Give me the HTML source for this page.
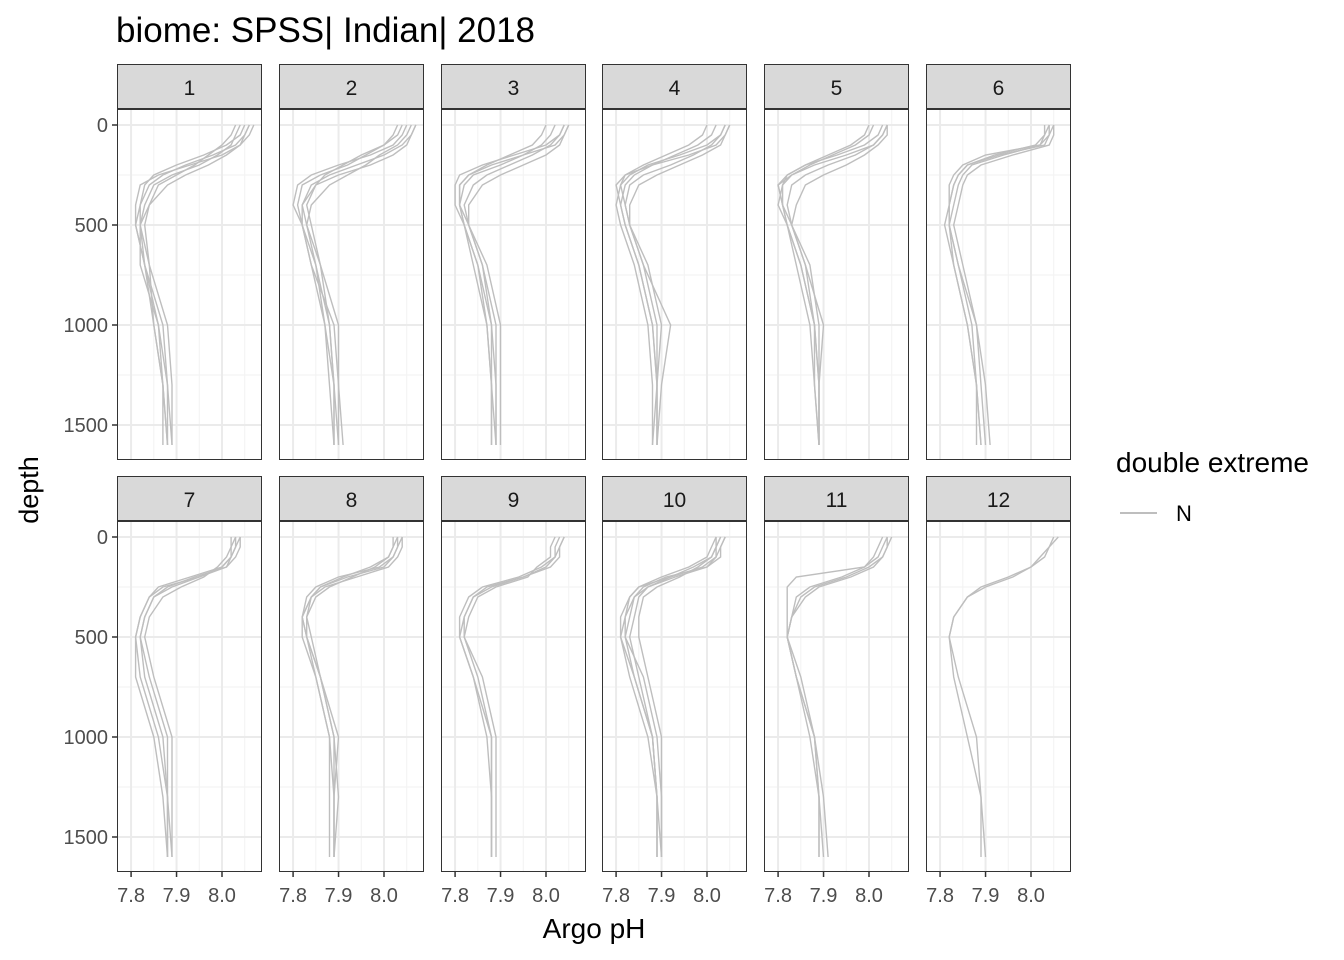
<!DOCTYPE html>
<html><head><meta charset="utf-8"><style>
body{margin:0;background:#fff;}
svg{font-family:"Liberation Sans",sans-serif;display:block;}
</style></head><body>
<svg id="c" width="1344" height="960" xmlns="http://www.w3.org/2000/svg">
<text x="116" y="42" font-size="35" fill="#000">biome: SPSS| Indian| 2018</text>
<text x="594" y="938" font-size="28" text-anchor="middle" fill="#000">Argo pH</text>
<text transform="translate(38,490) rotate(-90)" font-size="27" text-anchor="middle" fill="#000">depth</text>
<g>
<text x="1116" y="472" font-size="28" fill="#000">double extreme</text>
<line x1="1120" y1="513" x2="1157" y2="513" stroke="#bebebe" stroke-width="2"/>
<text x="1176" y="521" font-size="22" fill="#000">N</text>
</g>
</svg>
<script>
const months=["1","2","3","4","5","6","7","8","9","10","11","12"];
const depths=[0,50,100,150,200,250,300,400,500,700,1000,1300,1600];
const xTicks=[7.8,7.9,8.0];
const yTicks=[0,500,1000,1500];
const profiles=[
[[8.06,8.05,8.03,7.98,7.92,7.87,7.84,7.82,7.82,7.83,7.86,7.88,7.88],
 [8.05,8.04,8.01,7.96,7.90,7.85,7.83,7.82,7.81,7.83,7.85,7.87,7.88],
 [8.07,8.06,8.04,8.01,7.97,7.92,7.88,7.84,7.82,7.84,7.88,7.89,7.89],
 [8.04,8.03,8.02,7.99,7.95,7.89,7.85,7.83,7.82,7.82,7.86,7.87,7.87],
 [8.06,8.05,8.04,8.00,7.93,7.86,7.82,7.81,7.81,7.83,7.87,7.88,7.89],
 [8.03,8.02,8.00,7.97,7.94,7.90,7.86,7.84,7.83,7.84,7.85,7.87,7.88]],
[[8.07,8.06,8.04,8.00,7.94,7.88,7.84,7.82,7.83,7.85,7.88,7.89,7.90],
 [8.05,8.04,8.02,7.97,7.90,7.84,7.81,7.80,7.82,7.85,7.87,7.89,7.89],
 [8.06,8.05,8.03,7.99,7.96,7.92,7.88,7.84,7.83,7.86,7.90,7.90,7.91],
 [8.04,8.03,8.00,7.95,7.91,7.87,7.85,7.83,7.84,7.86,7.88,7.89,7.89],
 [8.07,8.06,8.05,8.02,7.97,7.90,7.85,7.82,7.82,7.84,7.89,7.90,7.90],
 [8.03,8.02,8.00,7.96,7.92,7.86,7.82,7.81,7.82,7.84,7.87,7.88,7.89]],
[[8.05,8.04,8.02,7.95,7.88,7.83,7.81,7.81,7.83,7.86,7.88,7.88,7.88],
 [8.04,8.03,8.00,7.93,7.86,7.81,7.80,7.80,7.82,7.85,7.88,7.89,7.89],
 [8.05,8.04,8.03,8.00,7.95,7.90,7.86,7.83,7.83,7.86,7.89,7.89,7.89],
 [8.02,8.01,7.99,7.95,7.90,7.84,7.82,7.81,7.82,7.85,7.87,7.88,7.88],
 [8.04,8.03,8.01,7.97,7.92,7.87,7.84,7.82,7.83,7.87,7.90,7.90,7.90],
 [8.00,7.99,7.97,7.92,7.87,7.83,7.81,7.81,7.82,7.84,7.87,7.88,7.89]],
[[8.05,8.04,8.02,7.96,7.88,7.82,7.80,7.81,7.82,7.85,7.88,7.89,7.89],
 [8.04,8.03,8.00,7.94,7.87,7.83,7.81,7.80,7.81,7.84,7.87,7.88,7.88],
 [8.05,8.04,8.03,7.99,7.94,7.89,7.85,7.83,7.83,7.86,7.92,7.90,7.89],
 [8.02,8.01,7.98,7.93,7.88,7.84,7.82,7.81,7.82,7.85,7.88,7.89,7.89],
 [8.04,8.03,8.01,7.97,7.92,7.86,7.83,7.82,7.83,7.87,7.90,7.89,7.89],
 [8.00,7.99,7.96,7.91,7.86,7.82,7.81,7.82,7.83,7.86,7.89,7.89,7.88]],
[[8.04,8.03,8.01,7.95,7.88,7.83,7.80,7.81,7.82,7.85,7.88,7.89,7.89],
 [8.03,8.02,7.99,7.93,7.86,7.82,7.81,7.81,7.82,7.84,7.87,7.88,7.89],
 [8.04,8.04,8.02,7.99,7.95,7.90,7.86,7.84,7.83,7.86,7.90,7.89,7.89],
 [8.01,8.00,7.97,7.92,7.87,7.83,7.81,7.80,7.82,7.85,7.88,7.89,7.89],
 [8.04,8.03,8.01,7.97,7.91,7.86,7.83,7.82,7.83,7.87,7.89,7.89,7.89],
 [8.00,7.99,7.96,7.91,7.86,7.82,7.80,7.81,7.83,7.86,7.88,7.88,7.89]],
[[8.05,8.04,8.03,7.93,7.86,7.84,7.83,7.82,7.82,7.84,7.87,7.88,7.89],
 [8.04,8.04,8.02,7.90,7.85,7.83,7.82,7.82,7.82,7.83,7.86,7.88,7.88],
 [8.05,8.05,8.04,7.96,7.89,7.86,7.85,7.84,7.83,7.85,7.88,7.89,7.90],
 [8.03,8.03,8.01,7.92,7.86,7.84,7.83,7.82,7.81,7.83,7.86,7.88,7.89],
 [8.04,8.03,8.02,7.94,7.87,7.85,7.84,7.83,7.82,7.84,7.88,7.90,7.91]],
[[8.03,8.03,8.02,8.01,7.95,7.89,7.85,7.83,7.82,7.83,7.87,7.88,7.88],
 [8.04,8.03,8.02,8.00,7.93,7.86,7.84,7.82,7.81,7.81,7.85,7.87,7.88],
 [8.02,8.02,8.01,7.99,7.96,7.91,7.87,7.84,7.83,7.85,7.89,7.89,7.89],
 [8.04,8.04,8.03,8.01,7.94,7.88,7.85,7.83,7.82,7.84,7.88,7.88,7.88],
 [8.03,8.02,8.02,8.00,7.95,7.87,7.84,7.82,7.81,7.82,7.86,7.88,7.89]],
[[8.03,8.03,8.02,8.00,7.92,7.86,7.84,7.82,7.83,7.85,7.88,7.89,7.89],
 [8.04,8.03,8.02,7.99,7.90,7.85,7.83,7.82,7.83,7.86,7.89,7.89,7.89],
 [8.02,8.02,8.01,7.98,7.93,7.88,7.85,7.83,7.84,7.86,7.89,7.90,7.89],
 [8.04,8.04,8.03,8.01,7.94,7.87,7.84,7.82,7.82,7.85,7.88,7.88,7.88],
 [8.03,8.02,8.01,7.97,7.91,7.86,7.84,7.83,7.83,7.86,7.90,7.89,7.89]],
[[8.03,8.02,8.02,8.00,7.95,7.87,7.84,7.82,7.82,7.85,7.88,7.88,7.88],
 [8.04,8.03,8.02,7.99,7.94,7.86,7.83,7.81,7.81,7.84,7.87,7.88,7.88],
 [8.02,8.01,8.01,7.98,7.96,7.89,7.85,7.83,7.82,7.86,7.89,7.89,7.89],
 [8.04,8.03,8.03,8.01,7.95,7.88,7.84,7.82,7.81,7.84,7.88,7.88,7.88]],
[[8.04,8.03,8.03,8.00,7.93,7.87,7.84,7.82,7.81,7.84,7.88,7.89,7.89],
 [8.03,8.02,8.02,7.99,7.92,7.85,7.83,7.81,7.81,7.83,7.87,7.89,7.89],
 [8.02,8.02,8.01,7.98,7.94,7.89,7.86,7.85,7.85,7.87,7.90,7.90,7.90],
 [8.04,8.03,8.02,8.00,7.91,7.86,7.84,7.83,7.82,7.86,7.89,7.90,7.90],
 [8.03,8.02,8.01,7.97,7.92,7.87,7.85,7.84,7.83,7.85,7.88,7.89,7.89],
 [8.02,8.01,8.00,7.96,7.90,7.85,7.83,7.82,7.82,7.84,7.88,7.89,7.90]],
[[8.05,8.04,8.03,8.00,7.95,7.88,7.85,7.83,7.82,7.84,7.88,7.89,7.89],
 [8.04,8.03,8.02,7.99,7.94,7.87,7.84,7.83,7.82,7.84,7.87,7.89,7.90],
 [8.03,8.02,8.01,7.99,7.84,7.82,7.82,7.82,7.82,7.85,7.88,7.89,7.89],
 [8.04,8.04,8.03,8.01,7.96,7.89,7.86,7.83,7.82,7.84,7.88,7.90,7.91]],
[[8.06,8.04,8.02,8.00,7.96,7.90,7.86,7.83,7.82,7.83,7.86,7.89,7.89],
 [8.05,8.04,8.03,8.00,7.95,7.89,7.86,7.83,7.82,7.84,7.88,7.89,7.90]]
];
const NS="http://www.w3.org/2000/svg";
const svg=document.getElementById('c');
const colX=[117,279,441,602,764,926], W=145;
const rowTop=[64,476], stripH=45, panelH=351;
const xMin=7.769,xMax=8.088;
function mk(t,a,parent){const e=document.createElementNS(NS,t);for(const k in a)e.setAttribute(k,a[k]);(parent||svg).appendChild(e);return e;}
months.forEach((m,i)=>{
  const r=Math.floor(i/6),c=i%6;
  const x0=colX[c], sy=rowTop[r], py=sy+stripH;
  const sx=v=>x0+(v-xMin)/(xMax-xMin)*W;
  const syf=d=>py+16+d*0.2;
  const g=mk('g',{});
  
  
  const bg=mk('rect',{x:x0,y:py,width:W,height:panelH,fill:'#fff'},g);
  
  
  [7.85,7.95,8.05].forEach(v=>mk('line',{x1:sx(v),x2:sx(v),y1:py,y2:py+panelH,stroke:'#f2f2f2','stroke-width':1},g));
  [250,750,1250].forEach(v=>mk('line',{x1:x0,x2:x0+W,y1:syf(v),y2:syf(v),stroke:'#f2f2f2','stroke-width':1},g));
  xTicks.forEach(v=>mk('line',{x1:sx(v),x2:sx(v),y1:py,y2:py+panelH,stroke:'#ebebeb','stroke-width':2},g));
  yTicks.forEach(v=>mk('line',{x1:x0,x2:x0+W,y1:syf(v),y2:syf(v),stroke:'#ebebeb','stroke-width':2},g));
  profiles[i].forEach(p=>{
    const pts=p.map((v,k)=>sx(v).toFixed(1)+','+syf(depths[k]).toFixed(1)).join(' ');
    const l=mk('polyline',{points:pts,fill:'none',stroke:'#bebebe','stroke-width':1.4},g);
    
    
  });
  const bd=mk('rect',{x:x0+0.5,y:py+0.5,width:W-1,height:panelH-1,fill:'none',stroke:'#333','stroke-width':1},g);
  
  
  const st=mk('rect',{x:x0+0.5,y:sy+0.5,width:W-1,height:stripH-1,fill:'#d9d9d9',stroke:'#333','stroke-width':1},g);
  
  
  const stt=mk('text',{x:x0+W/2,y:sy+31,'font-size':21,'text-anchor':'middle',fill:'#1a1a1a'},g);
  stt.textContent=m;
  
  
  if(c===0){yTicks.forEach(v=>{
    mk('line',{x1:x0-5,x2:x0,y1:syf(v),y2:syf(v),stroke:'#333','stroke-width':1.5},g);
    const t=mk('text',{x:x0-9,y:syf(v)+7,'font-size':20,'text-anchor':'end',fill:'#4d4d4d'},g);
    t.textContent=v;
    
    
  });}
  if(r===1){xTicks.forEach(v=>{
    mk('line',{x1:sx(v),x2:sx(v),y1:py+panelH,y2:py+panelH+5,stroke:'#333','stroke-width':1.5},g);
    const t=mk('text',{x:sx(v),y:py+panelH+30,'font-size':20,'text-anchor':'middle',fill:'#4d4d4d'},g);
    t.textContent=v.toFixed(1);
    
    
  });}
});
</script>
</body></html>
